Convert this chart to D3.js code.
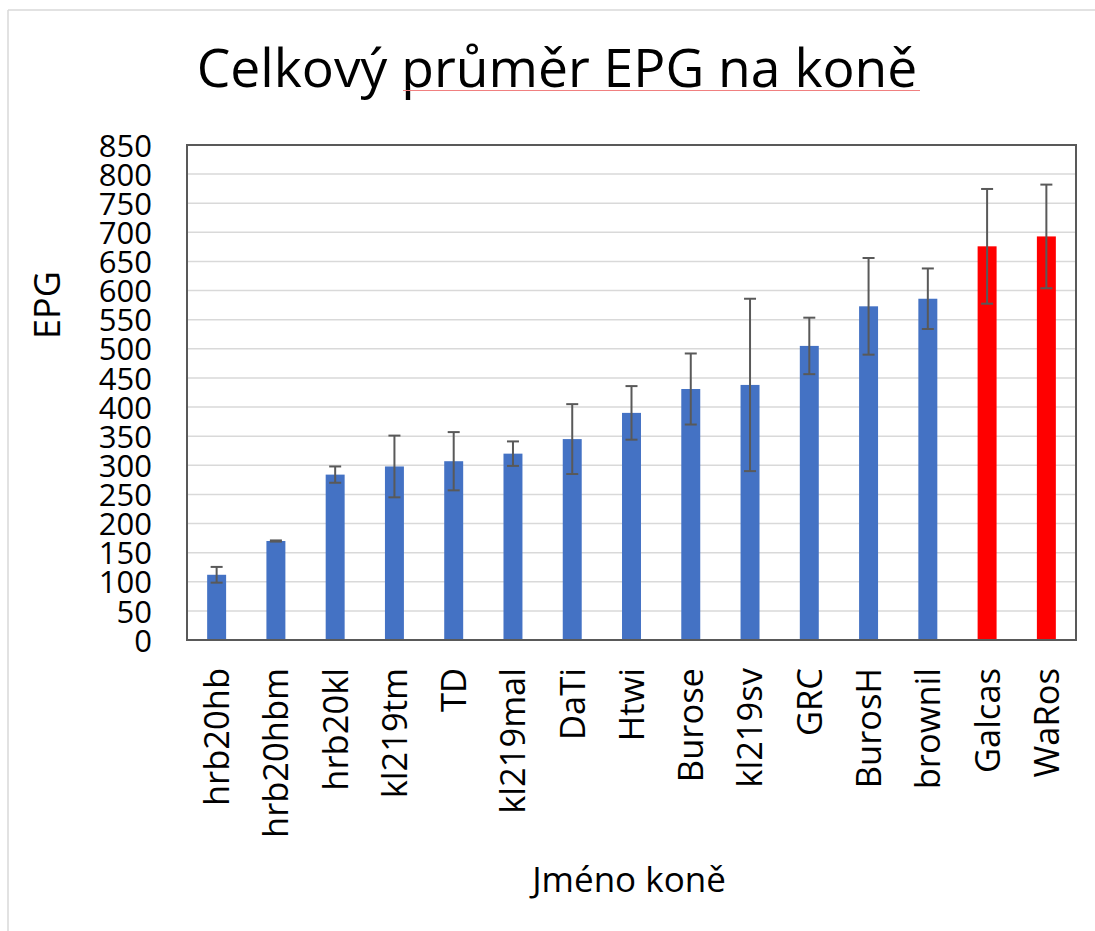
<!DOCTYPE html>
<html>
<head>
<meta charset="utf-8">
<script src="https://cdn.jsdelivr.net/npm/d3@7"></script>
<style>
    html, body {margin: 0; padding: 0; background: #fff;}
    svg {display: block; font-family: "Open Sans", sans-serif;}
</style>
</head>
<body>
<div id="chart"></div>
<script>
// horse names, sorted by mean EPG
let horseNames = ["hrb20hb", "hrb20hbm", "hrb20kl", "kl219tm", "TD", "kl219mal", "DaTi", "Htwi",
    "Burose", "kl219sv", "GRC", "BurosH", "brownil", "Galcas", "WaRos"];
let meanEpg = [112, 170, 284, 298, 307, 320, 345, 390, 431, 438, 505, 573, 586, 676, 693];
let errEpg = [13.5, 1, 14, 53, 50, 21, 60, 46, 61, 148, 48.5, 83, 52, 98.5, 89];
let highlighted = ["Galcas", "WaRos"];
let yTicks = d3.range(0, 851, 50);

let width = 1095, height = 931;
let plotLeft = 187, plotRight = 1076, plotTop = 145, plotBottom = 640;

let svg = d3.select("#chart").append("svg").attr("width", width).attr("height", height);

// outer chart frame (only top and left visible in the crop)
svg.append("line").attr("x1", 8).attr("x2", width).attr("y1", 10).attr("y2", 10)
    .attr("stroke", "#d9d9d9").attr("stroke-width", 1.5);
svg.append("line").attr("x1", 8).attr("x2", 8).attr("y1", 10).attr("y2", height)
    .attr("stroke", "#d9d9d9").attr("stroke-width", 1.5);

let x = d3.scaleBand().domain(horseNames).range([plotLeft, plotRight]).padding(0);
let y = d3.scaleLinear().domain([0, 850]).range([plotBottom, plotTop]);
let barWidth = x.bandwidth() * 0.32;
let color = d => highlighted.includes(d.name) ? "#ff0000" : "#4472c4";

let data = horseNames.map((n, i) => ({name: n, mean: meanEpg[i], err: errEpg[i]}));

//gridlines
svg.append("g").selectAll("line").data(yTicks.filter(t => t > 0 && t < 850)).enter()
    .append("line")
    .attr("x1", plotLeft).attr("x2", plotRight)
    .attr("y1", d => y(d)).attr("y2", d => y(d))
    .attr("stroke", "#d9d9d9").attr("stroke-width", 1.5);

//y axis labels
let yAxis = svg.append("g").attr("transform", `translate(${plotLeft - 35}, 0)`)
    .call(d3.axisLeft(y).tickValues(yTicks).tickSize(0).tickPadding(0));
yAxis.select(".domain").remove();
yAxis.selectAll("text").attr("font-size", 31).attr("font-family", "Open Sans")
    .attr("fill", "#000").attr("dy", "0.36em");

//bars
svg.append("g").selectAll("rect").data(data).enter()
    .append("rect")
    .attr("x", d => x(d.name) + x.bandwidth() / 2 - barWidth / 2)
    .attr("width", barWidth)
    .attr("y", d => y(d.mean))
    .attr("height", d => y(0) - y(d.mean))
    .attr("fill", color);

//error bars
let errG = svg.append("g").attr("stroke", "#595959").attr("stroke-width", 2);
let capHalf = 6;
data.forEach(d => {
    let cx = x(d.name) + x.bandwidth() / 2;
    errG.append("line").attr("x1", cx).attr("x2", cx)
        .attr("y1", y(d.mean + d.err)).attr("y2", y(d.mean - d.err));
    [d.mean + d.err, d.mean - d.err].forEach(v => {
        errG.append("line").attr("x1", cx - capHalf).attr("x2", cx + capHalf)
            .attr("y1", y(v)).attr("y2", y(v));
    });
});

//plot frame
svg.append("rect").attr("x", plotLeft).attr("y", plotTop)
    .attr("width", plotRight - plotLeft).attr("height", plotBottom - plotTop)
    .attr("fill", "none").attr("stroke", "#595959").attr("stroke-width", 2);

//x labels, rotated
svg.append("g").selectAll("text").data(horseNames).enter()
    .append("text")
    .text(d => d)
    .attr("transform", d => `translate(${x(d) + x.bandwidth() / 2}, 668) rotate(-90)`)
    .attr("text-anchor", "end")
    .attr("dy", "0.36em")
    .attr("font-size", 34.5)
    .attr("fill", "#000");

//axis titles
svg.append("text").text("Jméno koně")
    .attr("x", 629).attr("y", 892)
    .attr("text-anchor", "middle").attr("font-size", 35).attr("fill", "#000");
svg.append("text").text("EPG")
    .attr("transform", "translate(47, 305) rotate(-90)")
    .attr("text-anchor", "middle").attr("dy", "0.36em")
    .attr("font-size", 36).attr("fill", "#000");

//title, fitted to its width in the picture
let title = svg.append("text").text("Celkový průměr EPG na koně")
    .attr("x", 557).attr("y", 87)
    .attr("text-anchor", "middle").attr("font-size", 53).attr("fill", "#000");
let titleLen = title.node().getComputedTextLength();
if (titleLen > 0) title.attr("font-size", 53 * 721 / titleLen);

//spell-check underline seen under the title
svg.append("line").attr("x1", 403).attr("x2", 920).attr("y1", 90.5).attr("y2", 90.5)
    .attr("stroke", "#f08080").attr("stroke-width", 1);
</script>
</body>
</html>
